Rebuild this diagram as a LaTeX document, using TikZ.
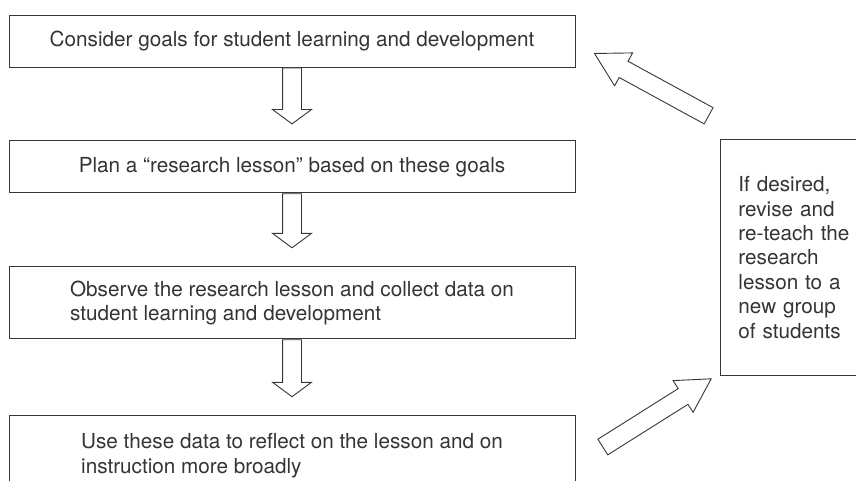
\documentclass[tikz,border=0pt]{standalone}
\usepackage{fontspec}
\setmainfont{TeX Gyre Heros}
\usetikzlibrary{shapes.arrows, positioning}
\definecolor{myGray}{RGB}{55,55,55}

\begin{document}
\begin{tikzpicture}[x=1pt, y=-1pt, line width=0.9pt, every node/.style={font=\fontsize{20.7pt}{24.4pt}\selectfont, text=myGray!95!black},
	stage/.style={draw=myGray, minimum width=566pt, minimum height=52pt, inner sep=0pt},
	hollow/.style={pos=0, anchor=tail, sloped, allow upside down, single arrow, draw=myGray, fill=white, inner xsep=0pt},
	downarr/.style={hollow, inner ysep=9pt, single arrow head extend=10pt, single arrow tip angle=107},
	sidearr/.style={hollow, inner ysep=8.8pt, single arrow head extend=9.5pt, single arrow tip angle=59}]
	\useasboundingbox (0,0) rectangle (856,481);
	% Cycle stages
	\node[stage] (goals) at (292,41) {Consider goals for student learning and development};
	\node[stage, below=73pt of goals] (plan) {Plan a “research lesson” based on these goals};
	\node[stage, below=73pt of plan, minimum height=72pt, align=left] (observe) {Observe the research lesson and collect data on\\student learning and development};
	\node[stage, below=76pt of observe, minimum height=80pt, align=left] (reflect) {Use these data to reflect on the lesson and on\\instruction more broadly};
	% Optional re-teaching
	\node[draw=myGray, anchor=north west, text width=118pt, inner xsep=18pt, minimum height=236pt, align=left] (revise) at (720,139) {If desired,\\revise and\\re-teach the\\research\\lesson to a\\new group\\of students};
	% Hollow arrows
	\path (goals.south) -- ([yshift=17pt]plan.north) node[downarr, minimum height=56pt] {};
	\path (plan.south) -- ([yshift=19pt]observe.north) node[downarr, minimum height=54pt] {};
	\path (observe.south) -- ([yshift=19pt]reflect.north) node[downarr, minimum height=57pt] {};
	\coordinate (tailU) at ([xshift=27pt, yshift=-32pt]reflect.north east);
	\coordinate (tipU) at ([xshift=-9pt, yshift=-3pt]revise.south west);
	\path (tailU) -- (tipU) node[sidearr, minimum height=128pt] {};
	\coordinate (tailL) at ([xshift=-11pt, yshift=23pt]revise.north west);
	\coordinate (tipL) at ([xshift=20pt, yshift=-13pt]goals.east);
	\path (tailL) -- (tipL) node[sidearr, minimum height=130pt] {};
\end{tikzpicture}
\end{document}
